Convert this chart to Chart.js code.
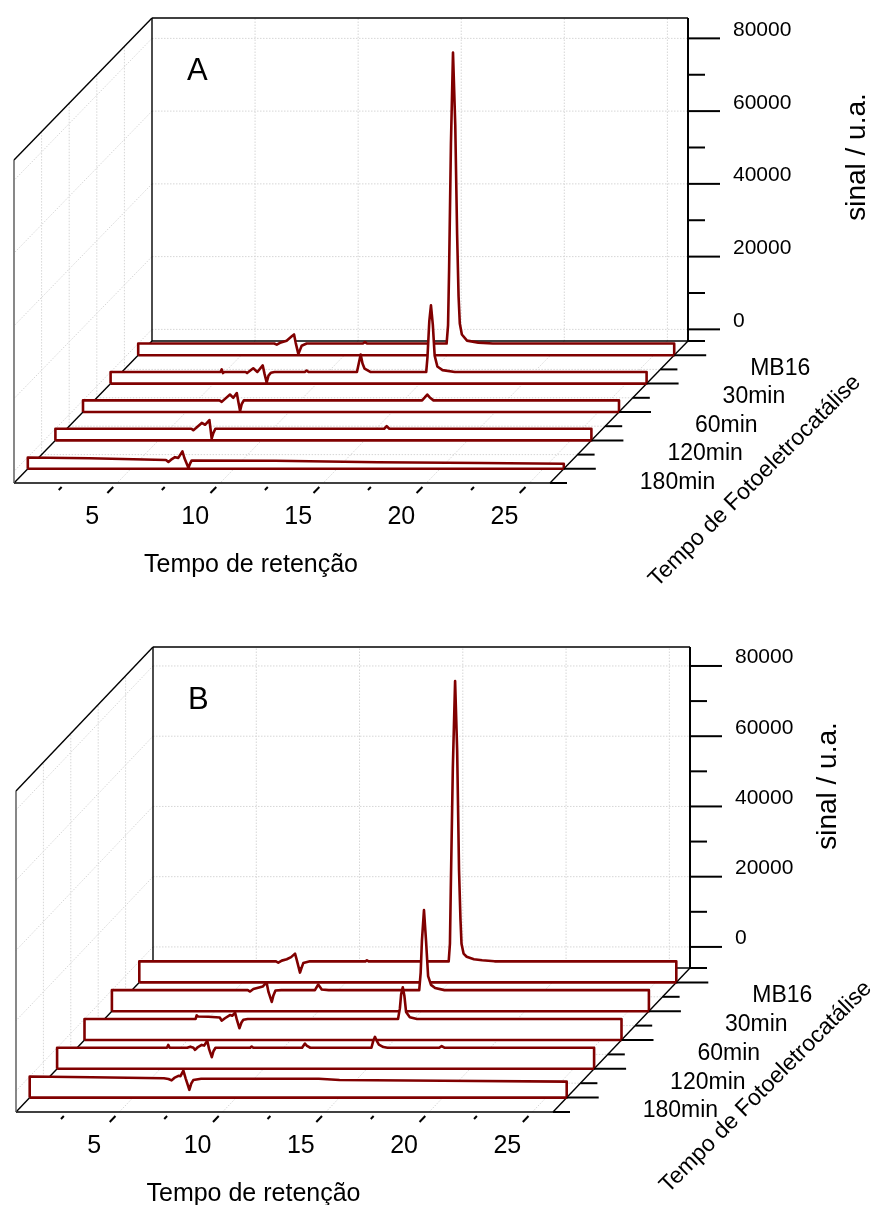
<!DOCTYPE html>
<html>
<head>
<meta charset="utf-8">
<script src="https://cdn.jsdelivr.net/npm/chart.js@4.4.1/dist/chart.umd.min.js"></script>
<style>
  body { margin: 0; background: #fff; }
  canvas { display: block; }
</style>
</head>
<body>
<canvas id="chartA" width="873" height="600"></canvas>
<canvas id="chartB" width="873" height="605"></canvas>
<script>
const seriesNames = ['MB16', '30min', '60min', '120min', '180min'];
const timeTicks = [5, 10, 15, 20, 25];
const signalTicks = [0, 20000, 40000, 60000, 80000];
const timeRange = [0, 26];

// chromatograms, pairs of [retention time, signal]
const A_MB16 = [[0, 0], [6.6, 0], [6.72, -300], [6.88, 200], [7.2, 800], [7.45, 2000], [7.56, 2500], [7.64, 200], [7.77, -2900], [7.86, -1600], [7.93, -600], [8.17, 0],
  [10.9, 0], [11.0, 400], [11.1, 0], [14.96, 0], [15.03, 5000], [15.08, 20000], [15.17, 55000], [15.27, 80000], [15.38, 60000], [15.47, 30000], [15.54, 13000],
  [15.6, 5500], [15.7, 2500], [15.95, 800], [16.5, 250], [17.2, 0], [26, 0]];
const A_30min = [[0, 0], [5.33, 0], [5.39, 700], [5.45, -300], [5.52, 0], [6.55, 0], [6.62, -300], [6.92, 1000], [7.12, 0], [7.38, 1800], [7.47, -600], [7.57, -2900],
  [7.66, -1000], [7.78, -200], [7.95, 0], [9.42, 0], [9.51, 400], [9.6, 0], [11.95, 0], [12.04, 2400], [12.13, 4800], [12.22, 2300], [12.32, 900], [12.6, 0],
  [15.31, 0], [15.37, 4000], [15.46, 14000], [15.54, 18300], [15.63, 13000], [15.72, 4500], [15.85, 1500], [16.1, 500], [16.7, 0], [26, 0]];
const A_60min = [[0, 0], [6.62, 0], [6.73, -400], [6.85, 200], [7.13, 1600], [7.29, 700], [7.46, 2000], [7.54, -500], [7.62, -2900], [7.7, -1000], [7.8, 0],
  [16.45, 0], [16.58, 800], [16.7, 1600], [16.82, 800], [17.0, 0], [26, 0]];
const A_120min = [[0, 0], [6.6, 0], [6.69, -400], [6.82, 200], [7.1, 1600], [7.26, 1100], [7.47, 2400], [7.53, -300], [7.58, -2700], [7.66, -1200], [7.76, 0],
  [15.95, 0], [16.07, 700], [16.2, 0], [26, 0]];
const A_180min = [[0, -100], [3, -300], [6.7, -800], [6.82, -1300], [6.95, -700], [7.14, 0], [7.3, -200], [7.5, 1600], [7.6, -300], [7.79, -2900], [7.87, -1800],
  [7.95, -900], [12, -1000], [17, -1400], [22, -1600], [26, -1800]];

const B_MB16 = [[0, 0], [6.62, 0], [6.73, -400], [6.9, 200], [7.14, 600], [7.35, 1200], [7.54, 2200], [7.62, 500], [7.78, -3200], [7.86, -1800], [7.94, -500], [8.26, 0],
  [10.95, 0], [11.02, 300], [11.1, 0], [14.98, 0], [15.04, 5000], [15.08, 20000], [15.18, 55000], [15.29, 79800], [15.39, 60000], [15.48, 26000], [15.55, 12000],
  [15.6, 5000], [15.7, 2200], [15.85, 1300], [16.2, 600], [16.6, 300], [17.2, 0], [26, 0]];
const B_30min = [[0, 0], [6.58, 0], [6.69, -400], [6.85, 300], [7.17, 800], [7.3, 1000], [7.49, 2200], [7.58, -500], [7.74, -3350], [7.82, -1500], [7.92, -100], [8.2, 0],
  [9.83, 0], [9.99, 1600], [10.16, 200], [10.5, 0], [14.88, 0], [14.95, 5000], [15.01, 14000], [15.11, 22800], [15.21, 14000], [15.31, 4000], [15.45, 1500],
  [15.65, 600], [16.1, 0], [26, 0]];
const B_60min = [[0, 0], [5.38, 0], [5.43, 1000], [5.5, 700], [6.0, 600], [6.55, 400], [6.64, -500], [6.8, 200], [7.04, 1100], [7.15, 900], [7.29, 1800], [7.38, -300],
  [7.5, -2650], [7.6, -1000], [7.69, -250], [7.9, 0], [15.18, 0], [15.27, 3000], [15.33, 7000], [15.41, 9000], [15.49, 6500], [15.57, 2000], [15.75, 500],
  [16.1, 0], [26, 0]];
const B_120min = [[0, 0], [5.32, 0], [5.38, 800], [5.45, 0], [6.3, 0], [6.45, 300], [6.6, 0], [6.68, -600], [6.82, 200], [7.0, 800], [7.12, 600], [7.27, 2000],
  [7.36, -400], [7.49, -2700], [7.57, -1000], [7.67, 0], [9.35, 0], [9.42, 350], [9.5, 0], [11.86, 0], [12.0, 1200], [12.1, 500], [12.26, 0], [15.22, 0],
  [15.3, 1800], [15.39, 3100], [15.47, 2000], [15.58, 900], [15.8, 200], [16.0, 0], [18.5, 0], [18.62, 450], [18.75, 0], [26, 0]];
const B_180min = [[0, 0], [3, -200], [6.5, -500], [6.72, -700], [6.87, -1100], [7.0, -400], [7.2, 200], [7.3, 100], [7.44, 1700], [7.55, -500], [7.73, -3800],
  [7.82, -2000], [7.92, -1000], [8.3, -650], [14, -650], [15, -1000], [20, -1200], [26, -1450]];

const W = 873;
const DEPTH = 5;            // depth axis runs 0..5, one slot per sample
const FONT = '"Liberation Sans", Arial, sans-serif';
const LINE = '#800000';

const panels = [
  { id: 'chartA', letter: 'A', height: 600, traces: [A_MB16, A_30min, A_60min, A_120min, A_180min],
    zRange: [-3200, 85600], wall: { left: 152, right: 688, top: 18, bottom: 341 }, depthPx: { x: -138, y: 142 },
    zTitle: { dx: 169, dy: 139 }, dTitle: { dx: 205, dy: -2 } },
  { id: 'chartB', letter: 'B', height: 605, traces: [B_MB16, B_30min, B_60min, B_120min, B_180min],
    zRange: [-6000, 85400], wall: { left: 153, right: 690, top: 47, bottom: 368 }, depthPx: { x: -137, y: 144 },
    zTitle: { dx: 138, dy: 139 }, dTitle: { dx: 213, dy: -25 } }
];

// oblique projection: depth shifts a point left/down in data units of the two scales
function makeProjector(p) {
  const pxT = (p.wall.right - p.wall.left) / (timeRange[1] - timeRange[0]);
  const pxZ = (p.wall.bottom - p.wall.top) / (p.zRange[1] - p.zRange[0]);
  return {
    xMin: timeRange[0] - p.wall.left / pxT,
    xMax: timeRange[1] + (W - p.wall.right) / pxT,
    yMin: p.zRange[0] - (p.height - p.wall.bottom) / pxZ,
    yMax: p.zRange[1] + p.wall.top / pxZ,
    at: (t, z, d) => ({ x: t + d / DEPTH * p.depthPx.x / pxT, y: z - d / DEPTH * p.depthPx.y / pxZ })
  };
}

function boxPlugin(p, proj) {
  const pix = (chart, t, z, d) => {
    const v = proj.at(t, z, d);
    return [chart.scales.x.getPixelForValue(v.x), chart.scales.y.getPixelForValue(v.y)];
  };
  const seg = (ctx, a, b) => { ctx.beginPath(); ctx.moveTo(a[0], a[1]); ctx.lineTo(b[0], b[1]); ctx.stroke(); };
  const [t0, t1] = timeRange;
  const [z0, z1] = p.zRange;

  return {
    id: 'box' + p.letter,
    beforeDatasetsDraw(chart) {
      const ctx = chart.ctx;
      const P = (t, z, d) => pix(chart, t, z, d);
      ctx.save();
      // dotted grid on back wall, left wall and floor
      ctx.strokeStyle = '#d6d6d6';
      ctx.lineWidth = 1;
      ctx.setLineDash([1.5, 1.5]);
      timeTicks.forEach(t => {
        seg(ctx, P(t, z0, 0), P(t, z1, 0));
        seg(ctx, P(t, z0, 0), P(t, z0, DEPTH));
      });
      signalTicks.forEach(z => {
        seg(ctx, P(t0, z, 0), P(t1, z, 0));
        seg(ctx, P(t0, z, 0), P(t0, z, DEPTH));
      });
      for (let d = 1; d < DEPTH; d++) {
        seg(ctx, P(t0, z0, d), P(t0, z1, d));
        seg(ctx, P(t0, z0, d), P(t1, z0, d));
      }
      ctx.setLineDash([]);

      ctx.strokeStyle = '#000';
      ctx.lineWidth = 1.4;
      seg(ctx, P(t0, z1, 0), P(t1, z1, 0));
      seg(ctx, P(t0, z0, 0), P(t0, z1, 0));
      seg(ctx, P(t0, z0, 0), P(t1, z0, 0));
      seg(ctx, P(t0, z1, 0), P(t0, z1, DEPTH));
      seg(ctx, P(t0, z0, 0), P(t0, z0, DEPTH));
      seg(ctx, P(t0, z0, DEPTH), P(t1, z0, DEPTH));
      seg(ctx, P(t1, z0, 0), P(t1, z0, DEPTH));
      ctx.strokeStyle = '#555';
      seg(ctx, P(t0, z0, DEPTH), P(t0, z1, DEPTH));
      ctx.strokeStyle = '#000';
      ctx.lineWidth = 2;
      seg(ctx, P(t1, z0, 0), P(t1, z1, 0));
      ctx.restore();
    },
    afterDatasetsDraw(chart) {
      const ctx = chart.ctx;
      const P = (t, z, d) => pix(chart, t, z, d);
      ctx.save();
      ctx.strokeStyle = '#000';
      ctx.fillStyle = '#000';
      ctx.lineWidth = 2;

      // signal axis on the right edge of the back wall
      ctx.font = '21px ' + FONT;
      ctx.textAlign = 'left';
      ctx.textBaseline = 'alphabetic';
      signalTicks.forEach((z, i) => {
        const [x, y] = P(t1, z, 0);
        seg(ctx, [x, y], [x + 32, y]);
        ctx.fillText(String(z), x + 45, y - 2.5);
        if (i < signalTicks.length - 1) {
          const [mx, my] = P(t1, (z + signalTicks[i + 1]) / 2, 0);
          seg(ctx, [mx, my], [mx + 17, my]);
        }
      });

      // depth axis: long ticks at each sample, short ones between
      for (let k = 0; k <= 2 * DEPTH; k++) {
        const [x, y] = P(t1, z0, k / 2);
        seg(ctx, [x, y], [x + (k % 2 ? 32 : 17), y]);
      }
      ctx.font = '23px ' + FONT;
      ctx.textBaseline = 'middle';
      seriesNames.forEach((name, i) => {
        const [x, y] = P(t1, z0, i + 0.5);
        ctx.fillText(name, x + 76, y + 13.5);
      });

      // retention time axis along the front edge of the floor
      const dz = DEPTH / p.depthPx.y;
      timeTicks.forEach(t => {
        seg(ctx, P(t, z0, DEPTH + 4 * dz), P(t, z0, DEPTH + 10 * dz));
        seg(ctx, P(t - 2.5, z0, DEPTH + 4 * dz), P(t - 2.5, z0, DEPTH + 7 * dz));
      });
      ctx.font = '25px ' + FONT;
      ctx.textAlign = 'center';
      timeTicks.forEach(t => {
        const [x, y] = P(t, z0, DEPTH);
        ctx.fillText(String(t), x - 25, y + 34);
      });
      const [cx, cy] = P((t0 + t1) / 2, z0, DEPTH);
      ctx.fillText('Tempo de retenção', cx - 31, cy + 82);

      // rotated titles
      const [rx, ry] = P(t1, z1, 0);
      ctx.save();
      ctx.translate(rx + p.zTitle.dx, ry + p.zTitle.dy);
      ctx.rotate(-Math.PI / 2);
      ctx.font = '28px ' + FONT;
      ctx.fillText('sinal / u.a.', 0, 0);
      ctx.restore();

      const [fx, fy] = P(t1, z0, DEPTH);
      ctx.save();
      ctx.translate(fx + p.dTitle.dx, fy + p.dTitle.dy);
      ctx.rotate(-Math.PI / 4);
      ctx.font = '23px ' + FONT;
      ctx.fillText('Tempo de Fotoeletrocatálise', 0, 0);
      ctx.restore();

      // panel letter
      const [lx, ly] = P(t0, z1, 0);
      ctx.font = '31px ' + FONT;
      ctx.textAlign = 'left';
      ctx.textBaseline = 'alphabetic';
      ctx.fillText(p.letter, lx + 35, ly + 62);
      ctx.restore();
    }
  };
}

function drawPanel(p) {
  const proj = makeProjector(p);
  const z0 = p.zRange[0];
  const datasets = p.traces.map((pts, i) => {
    const d = i + 0.5;
    const first = pts[0][0];
    const last = pts[pts.length - 1][0];
    // ribbon: baseline edge, trace, drop to baseline, back to start
    const data = [proj.at(first, z0, d)]
      .concat(pts.map(([t, z]) => proj.at(t, z, d)))
      .concat([proj.at(last, z0, d), proj.at(first, z0, d)]);
    return {
      label: seriesNames[i],
      data: data,
      borderColor: LINE,
      backgroundColor: '#ffffff',
      borderWidth: 2.6,
      borderJoinStyle: 'round',
      pointRadius: 0,
      tension: 0,
      fill: 'shape',
      order: p.traces.length - i
    };
  });

  new Chart(document.getElementById(p.id), {
    type: 'line',
    data: { datasets: datasets },
    options: {
      responsive: false,
      animation: false,
      layout: { padding: 0 },
      scales: {
        x: { type: 'linear', min: proj.xMin, max: proj.xMax, display: false },
        y: { type: 'linear', min: proj.yMin, max: proj.yMax, display: false }
      },
      plugins: {
        legend: { display: false },
        tooltip: { enabled: false }
      }
    },
    plugins: [boxPlugin(p, proj)]
  });
}

panels.forEach(drawPanel);
</script>
</body>
</html>
